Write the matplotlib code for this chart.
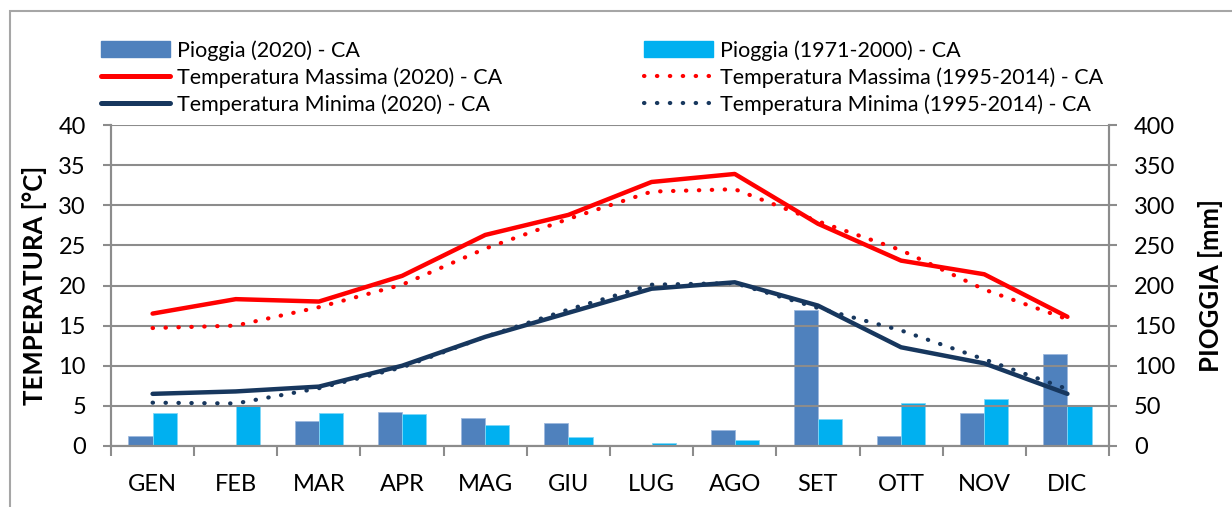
import numpy as np
import matplotlib
matplotlib.use("Agg")
import matplotlib.pyplot as plt
from matplotlib.lines import Line2D
from matplotlib.patches import Patch, Rectangle

plt.rcParams["font.family"] = ["Lato", "DejaVu Sans"]

mesi = ["GEN", "FEB", "MAR", "APR", "MAG", "GIU", "LUG", "AGO", "SET", "OTT", "NOV", "DIC"]
pioggia_2020 = [12, 0, 31, 42, 35, 29, 0, 20, 169, 13, 41, 115]
pioggia_norm = [41, 50, 41, 40, 26, 11, 3.5, 7, 34, 53, 58, 50]
tmax_2020 = [16.5, 18.3, 18.0, 21.2, 26.3, 28.8, 32.9, 33.9, 27.7, 23.1, 21.4, 16.1]
tmax_norm = [14.7, 15.0, 17.3, 20.1, 24.6, 28.3, 31.7, 32.0, 28.0, 24.4, 19.5, 15.8]
tmin_2020 = [6.5, 6.8, 7.4, 10.0, 13.6, 16.6, 19.6, 20.4, 17.5, 12.3, 10.3, 6.5]
tmin_norm = [5.4, 5.3, 7.2, 9.8, 13.6, 17.0, 20.1, 20.3, 17.2, 14.4, 10.8, 7.1]

BLU = "#4F81BD"
AZZURRO = "#00B0F0"
ROSSO = "#FF0000"
NAVY = "#17375E"
GRIGIO = "#8C8C8C"
PUNTI = (0, (0.1, 3.0))

fig = plt.figure(figsize=(12.32, 5.07), dpi=100)
# bordo esterno del grafico (tagliato a destra e in basso come nell'originale)
fig.patches.append(Rectangle((10 / 1232, -0.1), 1.2, 1 - 11 / 507 + 0.1, transform=fig.transFigure,
                             fill=False, edgecolor="#A6A6A6", linewidth=1.5))

ax = fig.add_axes([111 / 1232, 1 - 446 / 507, (1109 - 111) / 1232, (446 - 125) / 507])
axr = ax.twinx()
ax.set_zorder(axr.get_zorder() + 1)
ax.patch.set_visible(False)

x = np.arange(len(mesi))
w = 0.29
axr.bar(x - w / 2, pioggia_2020, w, color=BLU, edgecolor="#9DB9DD", linewidth=0.6)
axr.bar(x + w / 2, pioggia_norm, w, color=AZZURRO, edgecolor="#7FD7F7", linewidth=0.6)

ax.plot(x, tmax_2020, color=ROSSO, lw=3.2, solid_capstyle="round", solid_joinstyle="round")
ax.plot(x, tmax_norm, color=ROSSO, lw=3.0, linestyle=PUNTI, dash_capstyle="round")
ax.plot(x, tmin_2020, color=NAVY, lw=3.2, solid_capstyle="round", solid_joinstyle="round")
ax.plot(x, tmin_norm, color=NAVY, lw=3.0, linestyle=PUNTI, dash_capstyle="round")

ax.set_xlim(-0.5, len(mesi) - 0.5)
ax.set_ylim(0, 40)
axr.set_ylim(0, 400)
ax.set_yticks(np.arange(0, 41, 5))
axr.set_yticks(np.arange(0, 401, 50))
ax.set_xticks(x)
ax.set_xticklabels(mesi)
ax.set_xticks(np.arange(-0.5, len(mesi), 1), minor=True)
ax.tick_params(axis="x", which="major", length=0, labelsize=17, pad=20)
ax.tick_params(axis="x", which="minor", length=7, width=1.5, color=GRIGIO)
ax.tick_params(axis="y", length=6, width=1.5, color=GRIGIO, labelsize=17, pad=12)
axr.tick_params(axis="y", length=6, width=1.5, color=GRIGIO, labelsize=17, pad=12)

ax.grid(axis="y", color=GRIGIO, linewidth=1.5)
for a in (ax, axr):
    for s in a.spines.values():
        s.set_color(GRIGIO)
        s.set_linewidth(1.5)
    a.spines["top"].set_visible(False)

ax.set_ylabel("TEMPERATURA [°C]", fontsize=18.5, fontweight="bold", labelpad=8)
axr.set_ylabel("PIOGGIA [mm]", fontsize=18.5, fontweight="bold", labelpad=16)

sx = dict(handlelength=3.2, handleheight=0.8, handletextpad=0.35, labelspacing=0.3,
          frameon=False, fontsize=15.5, borderaxespad=0, borderpad=0)
h1 = [Patch(color=BLU), Line2D([], [], color=ROSSO, lw=3.6, solid_capstyle="round"),
      Line2D([], [], color=NAVY, lw=3.6, solid_capstyle="round")]
l1 = ["Pioggia (2020) - CA", "Temperatura Massima (2020) - CA", "Temperatura Minima (2020) - CA"]
h2 = [Patch(color=AZZURRO), Line2D([], [], color=ROSSO, lw=3.0, linestyle=PUNTI, dash_capstyle="round"),
      Line2D([], [], color=NAVY, lw=3.0, linestyle=PUNTI, dash_capstyle="round")]
l2 = ["Pioggia (1971-2000) - CA", "Temperatura Massima (1995-2014) - CA", "Temperatura Minima (1995-2014) - CA"]
fig.legend(h1, l1, loc="upper left", bbox_to_anchor=(101 / 1232, 1 - 40 / 507), **sx)
fig.legend(h2, l2, loc="upper left", bbox_to_anchor=(644 / 1232, 1 - 40 / 507), **sx)

fig.savefig("out.png", dpi=100)
